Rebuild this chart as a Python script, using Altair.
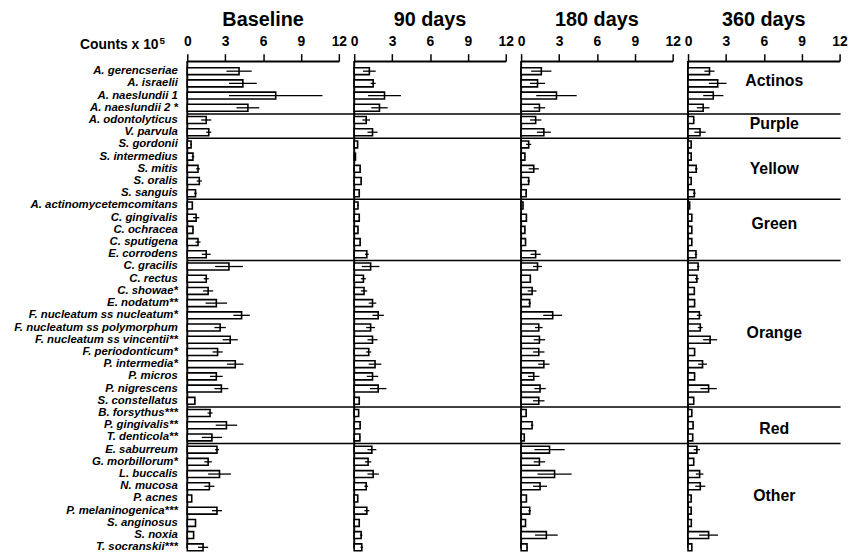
import altair as alt
import pandas as pd

species = [
    "A. gerencseriae", "A. israelii", "A. naeslundii 1", "A. naeslundii 2 *",
    "A. odontolyticus", "V. parvula",
    "S. gordonii", "S. intermedius", "S. mitis", "S. oralis", "S. sanguis",
    "A. actinomycetemcomitans", "C. gingivalis", "C. ochracea", "C. sputigena", "E. corrodens",
    "C. gracilis", "C. rectus", "C. showae*", "E. nodatum**", "F. nucleatum ss nucleatum*",
    "F. nucleatum ss polymorphum", "F. nucleatum ss vincentii**", "F. periodonticum*",
    "P. intermedia*", "P. micros", "P. nigrescens", "S. constellatus",
    "B. forsythus***", "P. gingivalis**", "T. denticola**",
    "E. saburreum", "G. morbillorum*", "L. buccalis", "N. mucosa", "P. acnes",
    "P. melaninogenica***", "S. anginosus", "S. noxia", "T. socranskii***",
]

group_names = ["Actinos", "Purple", "Yellow", "Green", "Orange", "Red", "Other"]
group_sizes = [4, 2, 5, 5, 12, 3, 9]
label_rows = ["A. israelii", "A. odontolyticus", "S. mitis", "C. gingivalis",
              "F. nucleatum ss polymorphum", "P. gingivalis**", "P. acnes"]
label_pos = [0.32, 0.83, 0.5, 0.99, 0.97, 0.78, 0.28]
label_x = 6.83

periods = ["Baseline", "90 days", "180 days", "360 days"]

baseline_mean = [4.1, 4.4, 7.0, 4.8, 1.5, 1.7, 0.3, 0.45, 0.85, 0.95, 0.65,
                 0.4, 0.7, 0.45, 0.85, 1.5, 3.3, 1.5, 1.65, 2.3, 4.3, 2.6, 3.4, 2.4,
                 3.8, 2.3, 2.7, 0.6, 1.8, 3.1, 1.95, 2.35, 1.65, 2.55, 1.75, 0.35,
                 2.35, 0.65, 0.5, 1.25]
baseline_se = [1.0, 1.1, 3.7, 0.9, 0.4, 0.2, 0.05, 0.1, 0.15, 0.2, 0.1,
               0.05, 0.25, 0.05, 0.2, 0.35, 1.1, 0.2, 0.4, 0.85, 0.65, 0.45, 0.6, 0.4,
               0.65, 0.5, 0.55, 0.05, 0.2, 0.85, 0.8, 0.15, 0.3, 0.9, 0.4, 0.03,
               0.4, 0.05, 0.05, 0.4]
d90_mean = [1.2, 1.5, 2.4, 2.0, 0.95, 1.45, 0.27, 0.1, 0.47, 0.55, 0.4,
            0.3, 0.4, 0.3, 0.47, 1.0, 1.3, 0.73, 0.78, 1.45, 1.9, 1.3, 1.45, 1.15,
            1.65, 1.45, 1.9, 0.4, 0.35, 0.47, 0.45, 1.4, 1.1, 1.5, 0.95, 0.28,
            1.0, 0.4, 0.55, 0.6]
d90_se = [0.5, 0.2, 1.3, 0.65, 0.3, 0.4, 0.05, 0.03, 0.05, 0.05, 0.05,
          0.05, 0.05, 0.05, 0.05, 0.15, 0.7, 0.2, 0.25, 0.3, 0.45, 0.35, 0.4, 0.2,
          0.5, 0.45, 0.65, 0.05, 0.05, 0.05, 0.05, 0.35, 0.25, 0.45, 0.15, 0.03,
          0.2, 0.05, 0.1, 0.1]
d180_mean = [1.6, 1.3, 2.8, 1.45, 1.15, 1.8, 0.6, 0.3, 1.0, 0.6, 0.4,
             0.15, 0.42, 0.3, 0.35, 1.15, 1.3, 0.73, 0.87, 0.68, 2.5, 1.4, 1.45, 1.4,
             1.8, 1.0, 1.5, 1.4, 0.4, 0.87, 0.25, 2.25, 1.45, 2.65, 1.5, 0.42,
             0.68, 0.35, 2.0, 0.47]
d180_se = [0.8, 0.6, 1.6, 0.45, 0.45, 0.55, 0.2, 0.05, 0.4, 0.1, 0.05,
           0.03, 0.05, 0.03, 0.05, 0.4, 0.35, 0.05, 0.35, 0.1, 0.75, 0.3, 0.45, 0.45,
           0.45, 0.45, 0.45, 0.45, 0.05, 0.1, 0.03, 1.2, 0.45, 1.35, 0.55, 0.05,
           0.1, 0.03, 0.9, 0.05]
d360_mean = [1.7, 2.35, 2.0, 1.2, 0.45, 0.95, 0.25, 0.25, 0.65, 0.25, 0.5,
             0.13, 0.3, 0.3, 0.3, 0.63, 0.8, 0.7, 0.5, 0.52, 0.9, 0.97, 1.75, 0.52,
             1.15, 0.52, 1.63, 0.45, 0.3, 0.4, 0.37, 0.7, 0.45, 0.92, 0.97, 0.25,
             0.25, 0.26, 1.63, 0.3]
d360_se = [0.4, 0.7, 0.8, 0.5, 0.05, 0.45, 0.03, 0.03, 0.1, 0.03, 0.1,
           0.03, 0.03, 0.03, 0.03, 0.1, 0.1, 0.15, 0.05, 0.05, 0.2, 0.2, 0.55, 0.05,
           0.35, 0.05, 0.65, 0.05, 0.03, 0.05, 0.03, 0.25, 0.05, 0.3, 0.4, 0.03,
           0.03, 0.03, 0.75, 0.03]

means = [baseline_mean, d90_mean, d180_mean, d360_mean]
ses = [baseline_se, d90_se, d180_se, d360_se]

rows = []
for p, m, s in zip(periods, means, ses):
    for i, sp in enumerate(species):
        rows.append({"period": p, "species": sp, "mean": m[i],
                     "lo": max(m[i] - s[i], 0), "hi": m[i] + s[i]})
df = pd.DataFrame(rows)

starts = []
idx = 0
for n in group_sizes:
    starts.append(species[idx])
    idx += n
sep_df = pd.DataFrame({"species": starts[1:]})
one = pd.DataFrame({"k": [0]})

FONT = "Liberation Sans"
W = 153
SP = 15.5
H = 492
yscale = alt.Scale(domain=species, paddingInner=0, paddingOuter=0, range=[4, 497])
xscale = alt.Scale(domain=[0, 12], nice=False, zero=True)

xaxis = alt.Axis(orient="top", values=[0, 3, 6, 9, 12], format="d", grid=False,
                 domainColor="black", domainWidth=2, tickColor="black", tickWidth=1.5,
                 tickSize=7.5, labelFont=FONT, labelFontSize=14, labelFontWeight="bold",
                 labelColor="black", labelPadding=5.5, labelFlush=False, labelOverlap=False,
                 title=None)
yaxis_first = alt.Axis(domain=False, ticks=False, labelFont=FONT, labelFontStyle="italic",
                       labelFontWeight="bold", labelFontSize=11.5, labelColor="black",
                       labelPadding=10, labelLimit=400, title=None)


def panel(k):
    period = periods[k]
    base = alt.Chart(df).transform_filter(alt.datum.period == period)
    yax = yaxis_first if k == 0 else None
    Y = alt.Y("species:N", scale=yscale, axis=yax, sort=species, title=None)
    bars = base.mark_bar(size=7, fill="white", stroke="black", strokeWidth=1.6).encode(
        x=alt.X("mean:Q", scale=xscale, axis=xaxis, title=None), y=Y)
    err = base.mark_rule(color="black", strokeWidth=1.3).encode(
        x=alt.X("lo:Q", scale=xscale, axis=xaxis, title=None), x2="hi:Q", y=Y)
    x2 = W + SP if k < 3 else W + 1
    sep = alt.Chart(sep_df).mark_rule(color="black", strokeWidth=1.5).encode(
        y=alt.Y("species:N", scale=yscale, sort=species, bandPosition=0, axis=yax, title=None),
        x=alt.value(0), x2=alt.value(x2))
    vline = alt.Chart(one).mark_rule(color="black", strokeWidth=2).encode(
        x=alt.value(0), y=alt.value(0), y2=alt.value(H))
    layers = [sep, vline, bars, err]
    if k == 0:
        t1 = alt.Chart(one).mark_text(align="right", baseline="alphabetic", font=FONT,
                                      fontSize=14, fontWeight="bold", color="black").encode(
            x=alt.value(-29), y=alt.value(-12), text=alt.value("Counts x 10"))
        t2 = alt.Chart(one).mark_text(align="left", baseline="alphabetic", font=FONT,
                                      fontSize=10, fontWeight="bold", color="black").encode(
            x=alt.value(-28), y=alt.value(-17), text=alt.value("5"))
        layers += [t1, t2]
    if k == 3:
        for g, r, bp in zip(group_names, label_rows, label_pos):
            lab = alt.Chart(pd.DataFrame({"species": [r], "x": [label_x], "label": [g]})).mark_text(
                align="center", baseline="middle", font=FONT, fontSize=16,
                fontWeight="bold", color="black").encode(
                x=alt.X("x:Q", scale=xscale, axis=xaxis, title=None),
                y=alt.Y("species:N", scale=yscale, sort=species, bandPosition=bp, axis=None),
                text="label:N")
            layers.append(lab)
    return alt.layer(*layers).properties(
        width=W, height=H,
        title=alt.TitleParams(period, fontSize=20, fontWeight="bold", font=FONT,
                              color="black", anchor="middle", offset=4))


chart = alt.hconcat(*[panel(k) for k in range(4)], spacing=SP, bounds="flush").configure_view(
    stroke=None).properties(padding={"left": 5, "right": 0, "top": 0, "bottom": 0})

chart.save("out.html", embed_options={"renderer": "svg", "actions": False})
